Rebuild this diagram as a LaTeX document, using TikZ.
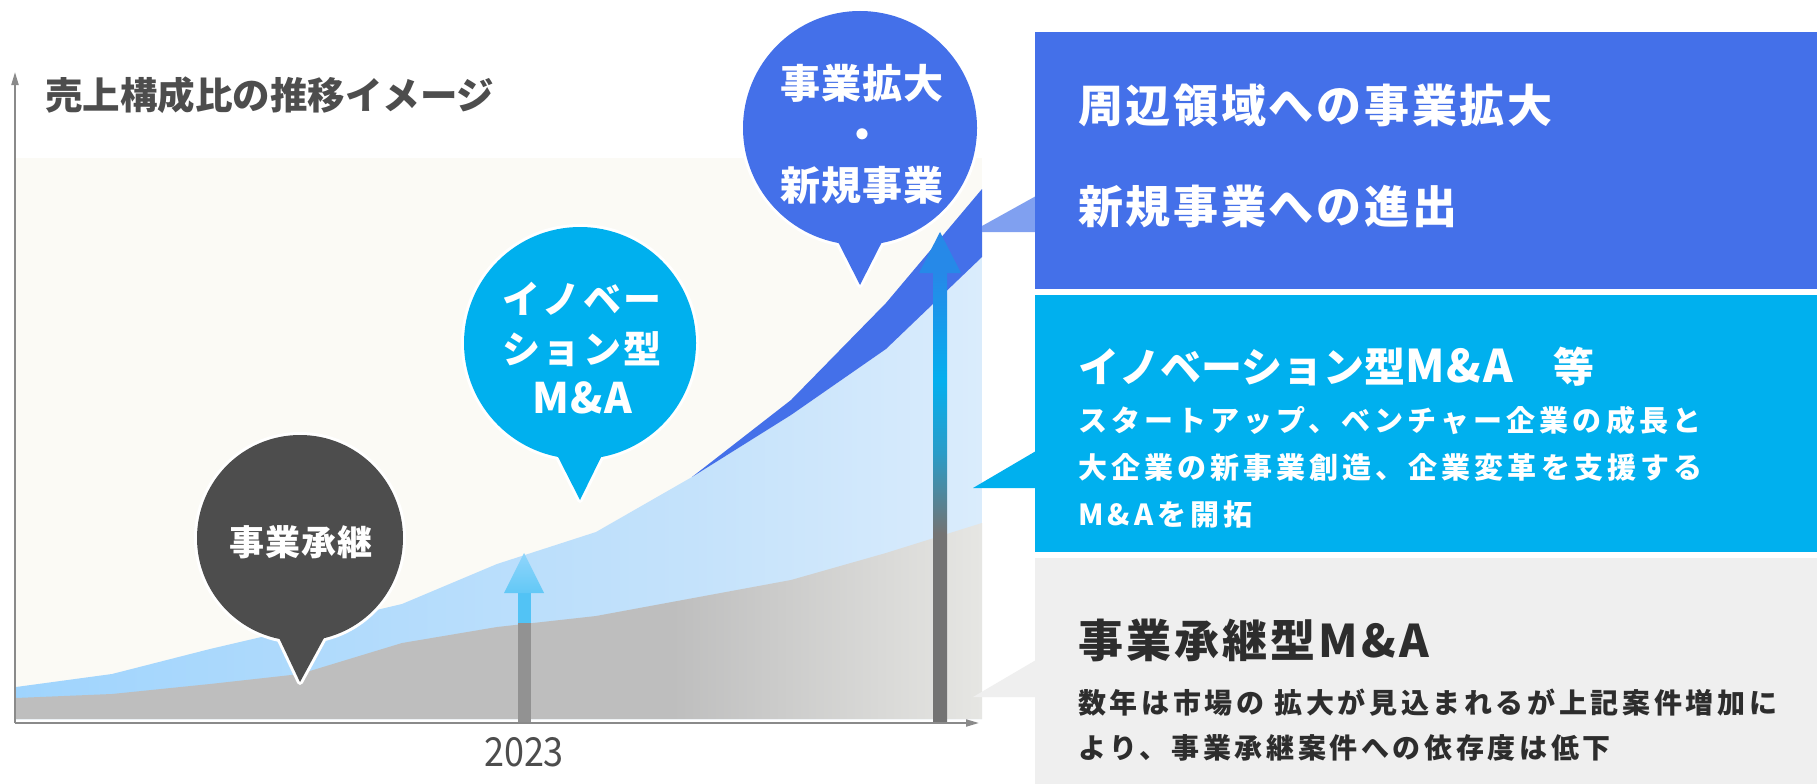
\documentclass[tikz,border=0pt]{standalone}
\usepackage{fontspec}
\setmainfont{Noto Sans CJK JP}
\usetikzlibrary{arrows.meta}
\definecolor{cream}{HTML}{FBFAF5}
\definecolor{grayA}{HTML}{BEBEBE}
\definecolor{grayB}{HTML}{E6E6E3}
\definecolor{lbA}{HTML}{9FD4FD}
\definecolor{lbM}{HTML}{C4E2FB}
\definecolor{lbB}{HTML}{DAECFC}
\definecolor{royal}{HTML}{4470E9}
\definecolor{cyanbox}{HTML}{00B0EE}
\definecolor{boxgray}{HTML}{EFEFEF}
\definecolor{wedgeblue}{HTML}{80A0F0}
\definecolor{darkbub}{HTML}{4D4D4D}
\definecolor{axisgray}{HTML}{8A8A8A}
\definecolor{txtgray}{HTML}{4D4D4D}
\definecolor{txtdark}{HTML}{2D2D2D}
\definecolor{arrgray}{HTML}{929292}
\definecolor{arrblueA}{HTML}{52C3F5}
\definecolor{arrheadA}{HTML}{62C8F6}
\definecolor{arrheadB}{HTML}{90D5FB}
\definecolor{agray}{HTML}{737373}
\definecolor{ateal}{HTML}{2A9CC8}
\definecolor{acyan}{HTML}{05AFEE}
\definecolor{ablue}{HTML}{2689E8}
\pgfdeclarehorizontalshading{lbfade}{100bp}{color(0bp)=(lbA); color(25bp)=(lbA); color(60bp)=(lbM); color(75bp)=(lbB); color(100bp)=(lbB)}
\pgfdeclarehorizontalshading{grayfade}{100bp}{color(0bp)=(grayA); color(25bp)=(grayA); color(59bp)=(grayA); color(75bp)=(grayB); color(100bp)=(grayB)}
\pgfdeclareverticalshading{headone}{100bp}{color(0bp)=(arrheadA); color(25bp)=(arrheadA); color(75bp)=(arrheadB); color(100bp)=(arrheadB)}
\pgfdeclareverticalshading{arrtwo}{100bp}{color(0bp)=(agray); color(25bp)=(agray); color(46bp)=(agray); color(55bp)=(ateal); color(63bp)=(acyan); color(75bp)=(ablue); color(100bp)=(ablue)}
\tikzset{
  bubout/.style={draw=white, line width=6pt, line join=round},
  whitetxt/.style={text=white, inner sep=0pt},
  boxtitle/.style={text=white, inner sep=0pt, anchor=west, font=\bfseries\fontsize{45}{50}\selectfont\addfontfeature{LetterSpace=6}},
  boxsub/.style={text=white, inner sep=0pt, anchor=west, align=left, font=\bfseries\fontsize{29}{47}\selectfont\addfontfeature{LetterSpace=14}},
  axisline/.style={draw=axisgray, line width=2pt, -{Triangle[length=13pt,width=7pt]}}
}
\begin{document}
\begin{tikzpicture}[x=1pt,y=-1pt]
\useasboundingbox (0,0) rectangle (1817,784);
\fill[white] (0,0) rectangle (1817,784);

% chart background
\fill[cream] (16,158) rectangle (982,719);

% light blue area
\shade[shading=lbfade] (16,719) -- (16,687) -- (112,674) -- (210,649) -- (300,628) -- (402,604) -- (497,564) -- (596,532) -- (692,477) -- (791,415) -- (886,349) -- (982,257) -- (982,719) -- cycle;
% dark blue band
\fill[royal] (692,477) -- (791,400) -- (886,303) -- (982,189) -- (982,257) -- (886,349) -- (791,415) -- cycle;
% gray area
\shade[shading=grayfade] (16,719) -- (16,698) -- (112,694) -- (210,684) -- (300,674) -- (402,643) -- (497,627) -- (596,616) -- (791,580) -- (886,553) -- (982,523) -- (982,719) -- cycle;

% arrow at 2023
\fill[arrgray] (517.5,722) rectangle (530.5,623);
\fill[arrblueA] (517.5,623) rectangle (530.5,593);
\shade[shading=headone] (504,593) -- (524,553) -- (544,593) -- cycle;

% arrow at right
\shade[shading=arrtwo] (933,722) rectangle (947,273);
\fill[ablue] (919,273) -- (940,232) -- (961,273) -- cycle;

% axes
\coordinate (origin) at (15,723);
\coordinate (xend) at (979,723);
\coordinate (yend) at (15,72);
\draw[axisline] (origin) -- (xend);
\draw[axisline] (origin) -- (yend);

% title and year
\node[text=txtgray, inner sep=0pt, anchor=west, font=\bfseries\fontsize{37.5}{40}\selectfont] (charttitle) at (45,95) {売上構成比の推移イメージ};
\node[text=txtgray, inner sep=0pt, font=\fontsize{40}{44}\selectfont\addfontfeature{FakeStretch=0.9}] (year) at (524,752) {2023};

% bubble: 事業承継
\path[bubout] (300,538) circle (103);
\path[bubout] (273,625) -- (300,682) -- (331,625) -- cycle;
\fill[darkbub] (300,538) circle (103);
\fill[darkbub] (273,625) -- (300,682) -- (331,625) -- cycle;
\node[whitetxt, font=\bfseries\fontsize{35}{40}\selectfont\addfontfeature{LetterSpace=2}] (bubsucc) at (301,542) {事業承継};

% bubble: イノベーション型M&A
\path[bubout] (580,343) circle (116);
\path[bubout] (552,445) -- (580,500) -- (607,445) -- cycle;
\fill[cyanbox] (580,343) circle (116);
\fill[cyanbox] (552,445) -- (580,500) -- (607,445) -- cycle;
\node[whitetxt, align=center, font=\bfseries\fontsize{38}{50}\selectfont\addfontfeature{LetterSpace=6}] (bubinno) at (582,348) {イノベー\\ション型\\{\fontsize{42}{50}\selectfont\addfontfeature{LetterSpace=3}M\&A}};

% bubble: 事業拡大・新規事業
\path[bubout] (860,128) circle (117);
\path[bubout] (833,232) -- (860,285) -- (887,232) -- cycle;
\fill[royal] (860,128) circle (117);
\fill[royal] (833,232) -- (860,285) -- (887,232) -- cycle;
\node[whitetxt, align=center, font=\bfseries\fontsize{40}{51}\selectfont\addfontfeature{LetterSpace=3}] (bubexp) at (862,134) {事業拡大\\・\\新規事業};

% wedges
\fill[wedgeblue] (982,226) -- (1036,196) -- (1036,232) -- (982,232) -- cycle;
\fill[cyanbox] (973,488) -- (1036,451) -- (1036,488) -- cycle;
\fill[boxgray] (973,697) -- (1036,660) -- (1036,697) -- cycle;

% boxes
\fill[royal] (1035,32) rectangle (1817,289);
\fill[cyanbox] (1035,295) rectangle (1817,552);
\fill[boxgray] (1035,558) rectangle (1817,784);

% box texts
\node[boxtitle] (expA) at (1078,105) {周辺領域への事業拡大};
\node[boxtitle] (expB) at (1078,206) {新規事業への進出};
\node[boxtitle, font=\bfseries\fontsize{41}{46}\selectfont] (innoT) at (1078,367) {イノベーション型{\fontsize{45}{46}\selectfont\addfontfeature{LetterSpace=4}M\&A}　等};
\node[boxsub] (innoS) at (1078,467) {スタートアップ、ベンチャー企業の成長と\\大企業の新事業創造、企業変革を支援する\\M\&Aを開拓};
\node[boxtitle, text=txtdark, font=\bfseries\fontsize{45}{50}\selectfont\addfontfeature{LetterSpace=7}] (succT) at (1078,640) {事業承継型M\&A};
\node[boxsub, text=txtdark, font=\bfseries\fontsize{28}{45}\selectfont\addfontfeature{LetterSpace=13}] (succS) at (1078,725) {数年は市場の 拡大が見込まれるが上記案件増加に\\より、事業承継案件への依存度は低下};
\end{tikzpicture}
\end{document}
